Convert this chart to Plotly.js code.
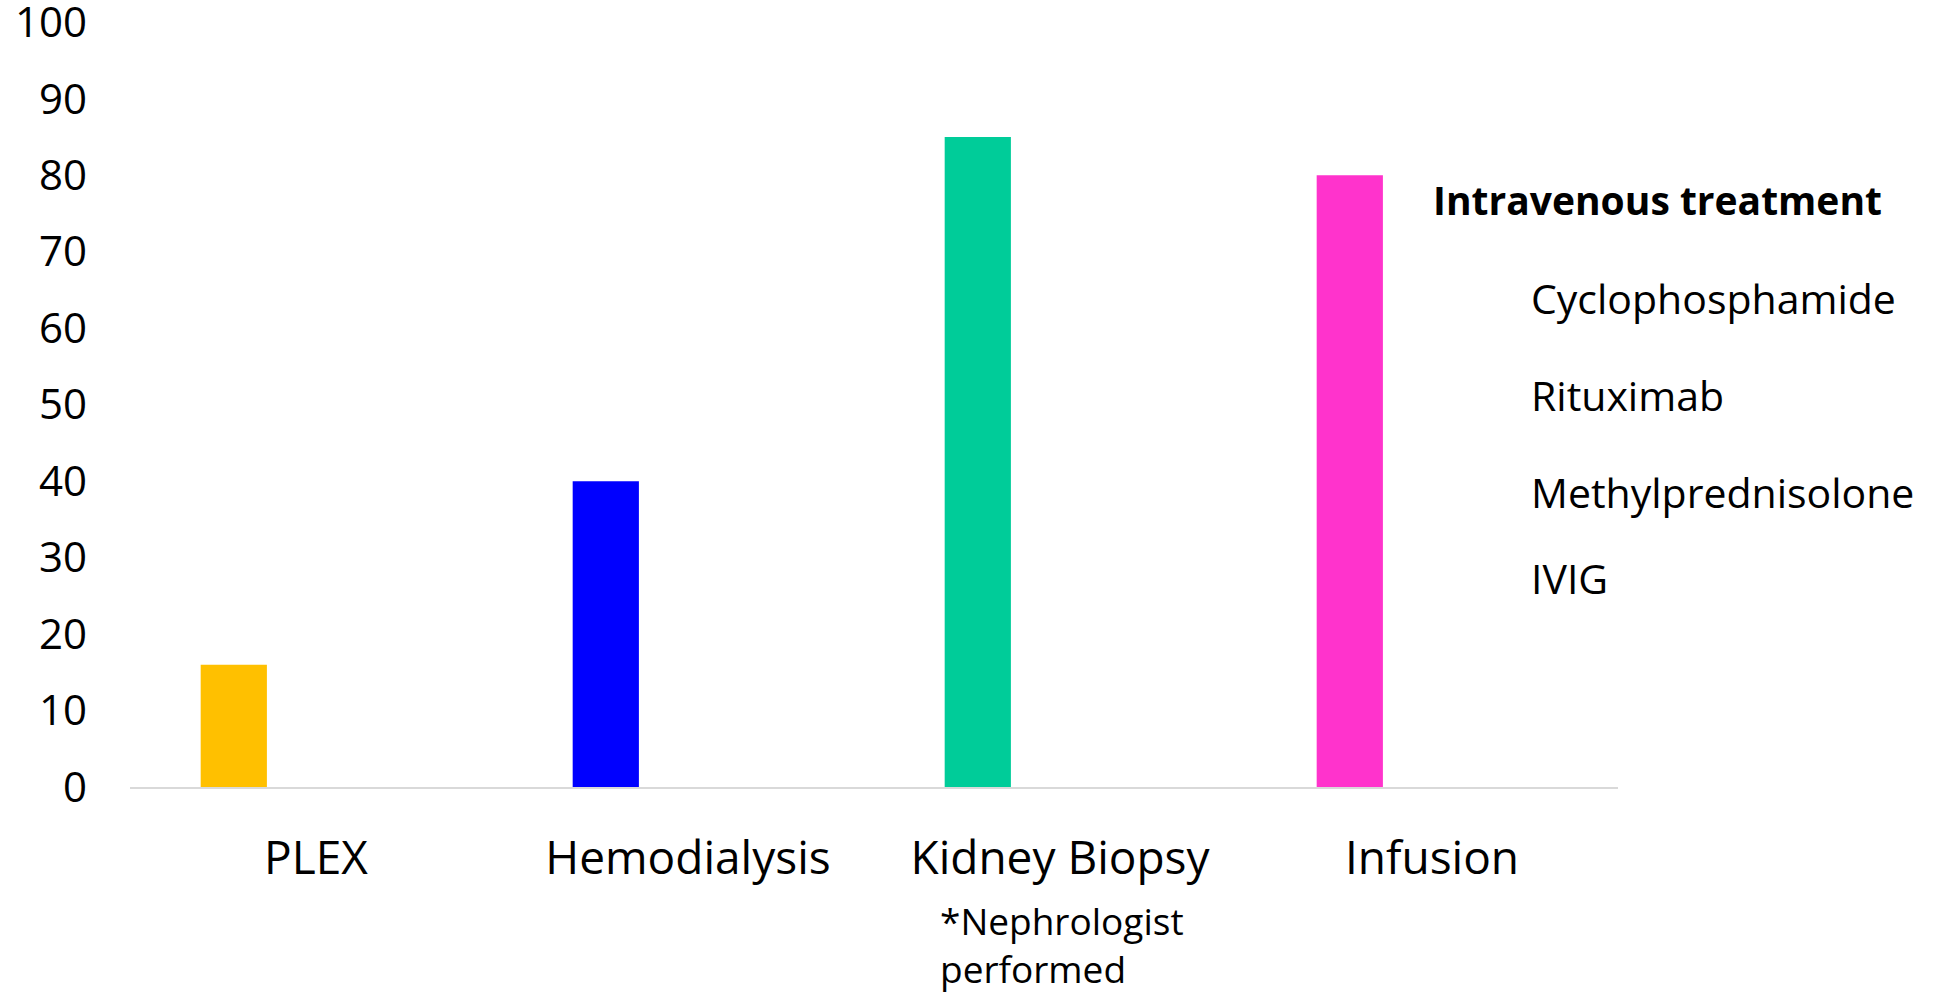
<!DOCTYPE html>
<html>
<head>
<meta charset="utf-8">
<script src="https://cdn.plot.ly/plotly-3.0.1.min.js"></script>
<style>
  html, body { margin: 0; padding: 0; background: #fff; }
  #chart { width: 1949px; height: 994px; }
</style>
</head>
<body>
<div id="chart"></div>
<script>
// categories and values
var procedures = ["PLEX", "Hemodialysis", "Kidney Biopsy", "Infusion"];
var percents = [16, 40, 85, 80];
var barColors = ["#FFC000", "#0000FF", "#00CC99", "#FF33CC"];
var yTicks = [0, 10, 20, 30, 40, 50, 60, 70, 80, 90, 100];

var ivTitle = "Intravenous treatment";
var ivDrugs = ["Cyclophosphamide", "Rituximab", "Methylprednisolone", "IVIG"];
var biopsyNote = "*Nephrologist<br>performed";

var fontFamily = "'Open Sans', 'Noto Sans', sans-serif";

var trace = {
    type: "bar",
    x: procedures,
    y: percents,
    marker: {color: barColors},
    width: 0.178,
    offset: -0.31,
    showlegend: false,
    hoverinfo: "x+y"
};

// paper positions of the side list
var drugY = [0.639, 0.512, 0.385, 0.273];

var annotations = [{
    xref: "paper", yref: "paper",
    x: 0.8745, y: 0.768,
    xanchor: "left", yanchor: "middle",
    text: "<b>" + ivTitle + "</b>",
    showarrow: false,
    font: {family: fontFamily, size: 39, color: "#000"}
}];

ivDrugs.forEach(function(d, i){
    annotations.push({
        xref: "paper", yref: "paper",
        x: 0.9405, y: drugY[i],
        xanchor: "left", yanchor: "middle",
        text: d,
        showarrow: false,
        font: {family: fontFamily, size: 41, color: "#000"}
    });
});

annotations.push({
    xref: "paper", yref: "paper",
    x: 0.5433, y: -0.138,
    xanchor: "left", yanchor: "top",
    align: "left",
    text: biopsyNote,
    showarrow: false,
    font: {family: fontFamily, size: 37, color: "#000"}
});

var layout = {
    width: 1949,
    height: 994,
    margin: {l: 130, r: 331, t: 22, b: 207},
    paper_bgcolor: "#fff",
    plot_bgcolor: "#fff",
    font: {family: fontFamily, color: "#000"},
    xaxis: {
        type: "category",
        showline: true,
        linecolor: "#D9D9D9",
        linewidth: 2,
        ticks: "",
        showgrid: false,
        zeroline: false,
        tickfont: {family: fontFamily, size: 46, color: "#000"},
        ticklabelstandoff: 30
    },
    yaxis: {
        range: [0, 100.05],
        tickmode: "array",
        tickvals: yTicks,
        ticktext: yTicks.map(String),
        showline: false,
        showgrid: false,
        zeroline: false,
        ticks: "",
        ticklabeloverflow: "allow",
        tickfont: {family: fontFamily, size: 42, color: "#000"},
        ticklabelstandoff: 42
    },
    annotations: annotations,
    showlegend: false
};

Plotly.newPlot("chart", [trace], layout, {displayModeBar: false, staticPlot: true});
</script>
</body>
</html>
